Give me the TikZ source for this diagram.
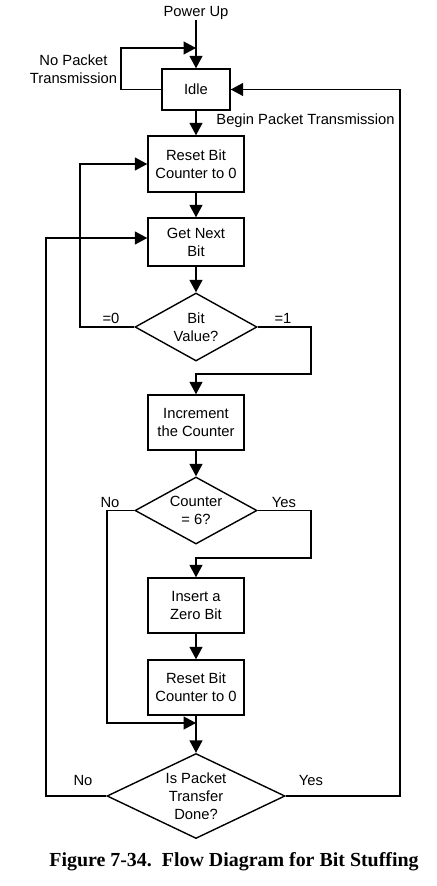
\documentclass[tikz,border=0pt]{standalone}
\usepackage{fontspec}
\setmainfont{Liberation Sans}
\newfontfamily\capfont{Liberation Serif}
\usetikzlibrary{arrows.meta,shapes.geometric}
\newcommand{\flowfont}{\fontsize{14.8}{18}\selectfont}
\tikzset{
  fline/.style={line width=1.4bp},
  farrow/.style={-{Triangle[length=12.5bp,width=13bp]}, line width=1.4bp},
  procbox/.style={draw, line width=1.4bp, minimum width=96bp, minimum height=55bp, inner sep=0pt, align=center, font=\flowfont},
  testbox/.style={draw, diamond, line width=1.4bp, aspect=1.8, minimum width=122bp, minimum height=68bp, inner sep=0pt, align=center, font=\flowfont},
  lbl/.style={inner sep=0pt, align=center, font=\flowfont}
}

\begin{document}
\begin{tikzpicture}[x=1bp, y=-1bp]
    \useasboundingbox (0,0) rectangle (437,886);
    \node[lbl] (power) at (196,13) {Power Up};
    \node[procbox, minimum width=68bp, minimum height=41bp] (idle) at (196,89.5) {Idle};
    \node[procbox, minimum height=56bp] (reset1) at (196,164) {Reset Bit\\Counter to 0};
    \node[procbox, minimum height=48bp] (getbit) at (196,242) {Get Next\\Bit};
    \node[testbox] (bitval) at (196,327) {Bit\\Value?};
    \node[procbox] (incr) at (196,422.5) {Increment\\the Counter};
    \node[testbox, minimum height=67bp] (count) at (196,510.5) {Counter\\= 6?};
    \node[procbox] (insert) at (196,605.5) {Insert a\\Zero Bit};
    \node[procbox] (reset2) at (196,687.5) {Reset Bit\\Counter to 0};
    \node[testbox, aspect=2.1, minimum width=178bp, minimum height=85bp] (done) at (196,796) {Is Packet\\Transfer\\Done?};

    \node[lbl] (nopkt) at (73.5,69) {No Packet\\Transmission};
    \node[lbl] (beginpkt) at (305.5,121) {Begin Packet Transmission};
    \node[lbl] (zero) at (111,318) {=0};
    \node[lbl] (one) at (283,318) {=1};
    \node[lbl] (cno) at (110,502) {No};
    \node[lbl] (cyes) at (284,502) {Yes};
    \node[lbl] (dno) at (83,780) {No};
    \node[lbl] (dyes) at (311,780) {Yes};
    \node[inner sep=0pt, font=\capfont\fontsize{20}{24}\selectfont\bfseries] (caption) at (234,862) {Figure 7-34.\ \ Flow Diagram for Bit Stuffing};

    \coordinate (idleloop) at (121,48);
    \coordinate (idlein) at (196,48);
    \coordinate (onebend) at (311,374);
    \coordinate (yesbend) at (311,558);
    \coordinate (nojoin) at (196,723);

    \draw[farrow] (power.south) -- (idle.north);
    \draw[farrow] (idle.west) -| (idleloop) -- (idlein);
    \draw[farrow] (idle.south) -- (reset1.north);
    \draw[farrow] (reset1.south) -- (getbit.north);
    \draw[farrow] (getbit.south) -- (bitval.north);
    \draw[farrow] (bitval.west) -- (80,327) |- (reset1.west);
    \draw[farrow] (bitval.east) -| (onebend) -| (incr.north);
    \draw[farrow] (incr.south) -- (count.north);
    \draw[farrow] (count.east) -| (yesbend) -| (insert.north);
    \draw[farrow] (count.west) -- (107,510.5) |- (nojoin);
    \draw[farrow] (insert.south) -- (reset2.north);
    \draw[farrow] (reset2.south) -- (done.north);
    \draw[farrow] (done.west) -- (46,796) |- ([yshift=4bp]getbit.west);
    \draw[farrow] (done.east) -- (400,796) |- (idle.east);
  \end{tikzpicture}
\end{document}
